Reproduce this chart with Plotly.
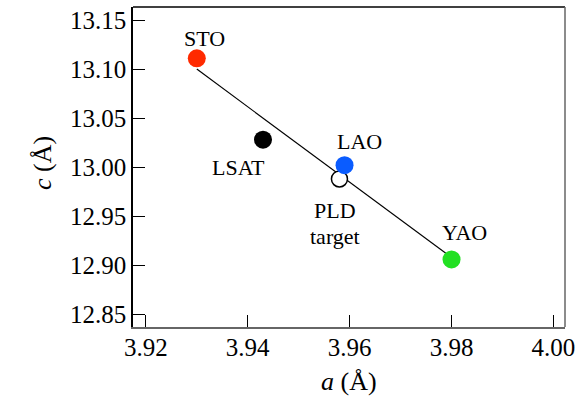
import plotly.graph_objects as go

names = ["STO", "LSAT", "LAO", "YAO"]
a_vals = [3.930, 3.943, 3.959, 3.980]
c_vals = [13.111, 13.028, 13.002, 12.906]
colors = ["#ff2a00", "#000000", "#0a5cff", "#22e022"]

target_a = [3.958]
target_c = [12.988]

fit_a = [3.930, 3.980]
fit_c = [13.100, 12.908]

label_a = [3.9316, 3.9382, 3.9619, 3.9825]
label_c = [13.1317, 13.0002, 13.0267, 12.9334]

target_label = ["PLD", "target"]
target_label_a = [3.9572, 3.9572]
target_label_c = [12.9563, 12.9298]

x_ticks = [3.92, 3.94, 3.96, 3.98, 4.00]
y_ticks = [12.85, 12.90, 12.95, 13.00, 13.05, 13.10, 13.15]

FONT = "Liberation Serif, Times New Roman, serif"

fig = go.Figure()
fig.add_trace(go.Scatter(x=fit_a, y=fit_c, mode="lines",
                         line=dict(color="black", width=1.2), showlegend=False))
fig.add_trace(go.Scatter(x=target_a, y=target_c, mode="markers",
                         marker=dict(size=16, color="white", line=dict(color="black", width=1.5)),
                         showlegend=False))
fig.add_trace(go.Scatter(x=a_vals, y=c_vals, mode="markers",
                         marker=dict(size=18, color=colors, line=dict(width=0)),
                         showlegend=False))

for n, x, y in zip(names, label_a, label_c):
    fig.add_annotation(x=x, y=y, text=n, showarrow=False,
                       font=dict(family=FONT, size=22, color="black"))
for n, x, y in zip(target_label, target_label_a, target_label_c):
    fig.add_annotation(x=x, y=y, text=n, showarrow=False,
                       font=dict(family=FONT, size=22, color="black"))

# axis titles
fig.add_annotation(xref="paper", yref="paper", x=0.5, y=-0.2219, text="<i>a</i> (Å)",
                   showarrow=False, font=dict(family=FONT, size=26, color="black"))
fig.add_annotation(xref="paper", yref="paper", x=-0.2489, y=0.5125, text="<i>c</i> (Å)",
                   textangle=-90, showarrow=False, font=dict(family=FONT, size=26, color="black"))

# top and right frame edges
fig.add_shape(type="line", xref="paper", yref="paper", x0=0, x1=1, y0=1, y1=1,
              line=dict(color="black", width=1.5))
fig.add_shape(type="line", xref="paper", yref="paper", x0=1, x1=1, y0=0, y1=1,
              line=dict(color="#666666", width=1.5))

fig.update_layout(
    width=582, height=414,
    margin=dict(l=133, r=11, t=7, b=87),
    plot_bgcolor="white", paper_bgcolor="white",
    font=dict(family=FONT, size=25, color="black"),
)
fig.update_xaxes(range=[3.91748, 4.00227], tickvals=x_ticks,
                 ticktext=["%.2f" % v for v in x_ticks], ticklabeloverflow="allow",
                 tickfont=dict(family=FONT, size=25, color="black"),
                 ticklabelstandoff=-3,
                 ticks="inside", ticklen=12, tickcolor="black", tickwidth=1,
                 showline=True, linecolor="#666666", linewidth=1.5, mirror=False,
                 showgrid=False, zeroline=False)
fig.update_yaxes(range=[12.8371, 13.1633], tickvals=y_ticks,
                 ticktext=["%.2f" % v for v in y_ticks], ticklabeloverflow="allow",
                 tickfont=dict(family=FONT, size=25, color="black"),
                 ticks="inside", ticklen=12, tickcolor="black", tickwidth=1,
                 showline=True, linecolor="black", linewidth=1.5, mirror=False,
                 showgrid=False, zeroline=False)

fig.write_html("out.html", config={"displayModeBar": False},
               post_script="document.body.style.margin='0';")
